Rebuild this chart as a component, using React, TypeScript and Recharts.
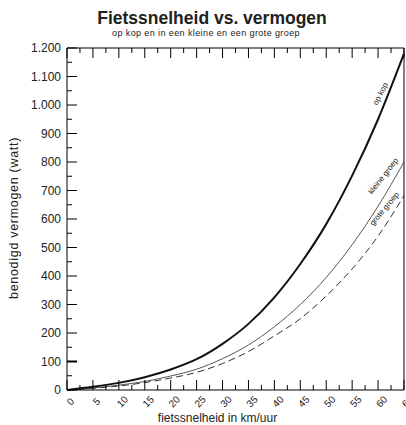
import { LineChart, Line, XAxis, YAxis, ReferenceDot } from "recharts";

const speeds = [0, 5, 10, 15, 20, 25, 30, 35, 40, 45, 50, 55, 60, 65];
const opKop = [0, 11, 25, 45, 72, 108, 162, 232, 325, 442, 582, 752, 950, 1180];
const kleineGroep = [0, 7, 17, 30, 49, 73, 110, 158, 222, 300, 395, 510, 645, 800];
const groteGroep = [0, 6, 14, 26, 42, 62, 93, 135, 190, 250, 330, 425, 540, 682];

const xTicks = Array.from({ length: 27 }, (_, i) => i * 2.5);
const yTicks = Array.from({ length: 25 }, (_, i) => i * 50);

const data = speeds.map((v, i) => ({
  v,
  opKop: opKop[i],
  kleine: kleineGroep[i],
  grote: groteGroep[i],
}));

const FONT = "Arial, 'Liberation Sans', sans-serif";
const fmt = (n: number) => n.toLocaleString("nl-NL");

const tickW = (v: number) => (v === 100 ? 2 : 1);

function LeftTick({ x, y, payload }: any) {
  const v = payload.value;
  const major = v % 100 === 0;
  return (
    <g>
      <line x1={x} x2={x + (major ? 10 : 5)} y1={y} y2={y} stroke="#000" strokeWidth={tickW(v)} />
      {major && (
        <text x={x - 6} y={y + 4} textAnchor="end" fontSize={12} fill="#222" fontFamily={FONT}>
          {fmt(v)}
        </text>
      )}
    </g>
  );
}

function RightTick({ x, y, payload }: any) {
  const v = payload.value;
  const major = v % 100 === 0;
  return <line x1={x - (major ? 10 : 5)} x2={x} y1={y} y2={y} stroke="#000" strokeWidth={tickW(v)} />;
}

function BottomTick({ x, y, payload }: any) {
  const v = payload.value;
  const major = v % 5 === 0;
  const tx = x + 6;
  const ty = y + 14;
  return (
    <g>
      <line x1={x} x2={x} y1={y} y2={y - (major ? 10 : 5)} stroke="#000" />
      {major && (
        <text
          x={tx}
          y={ty}
          transform={`rotate(-45, ${tx}, ${ty})`}
          textAnchor="middle"
          fontSize={10}
          fill="#222"
          fontFamily={FONT}
        >
          {v}
        </text>
      )}
    </g>
  );
}

function TopTick({ x, y, payload }: any) {
  const major = payload.value % 5 === 0;
  return <line x1={x} x2={x} y1={y} y2={y + (major ? 10 : 5)} stroke="#000" />;
}

const curveLabel = (text: string, angle: number) => (p: any) => (
  <text
    x={p.cx}
    y={p.cy}
    transform={`rotate(${angle}, ${p.cx}, ${p.cy})`}
    textAnchor="middle"
    fontSize={8}
    fill="#222"
    fontFamily={FONT}
  >
    {text}
  </text>
);

export default function App() {
  return (
    <div
      style={{
        position: "absolute",
        left: 0,
        top: 0,
        width: 406,
        height: 425,
        overflow: "hidden",
        background: "#fff",
        fontFamily: FONT,
      }}
    >
      <div
        style={{
          position: "absolute",
          left: 0,
          width: 424,
          top: 8,
          textAlign: "center",
          fontSize: 17.5,
          fontWeight: "bold",
          color: "#222",
        }}
      >
        Fietssnelheid vs. vermogen
      </div>
      <div
        style={{
          position: "absolute",
          left: 0,
          width: 412,
          top: 28,
          textAlign: "center",
          fontSize: 9,
          letterSpacing: 0.4,
          color: "#222",
        }}
      >
        op kop en in een kleine en een grote groep
      </div>
      <LineChart
        width={440}
        height={425}
        data={data}
        margin={{ top: 38, right: 0, bottom: 0, left: 0 }}
      >
        <XAxis
          dataKey="v"
          type="number"
          domain={[0, 65]}
          ticks={xTicks}
          interval={0}
          height={35}
          tickSize={0}
          tickMargin={0}
          tickLine={false}
          axisLine={{ stroke: "#000" }}
          tick={<BottomTick />}
          label={{
            value: "fietssnelheid in km/uur",
            position: "insideBottom",
            offset: 3,
            dx: -18,
            fontSize: 12,
            fill: "#222",
            fontFamily: FONT,
          }}
        />
        <XAxis
          xAxisId="t"
          orientation="top"
          dataKey="v"
          type="number"
          domain={[0, 65]}
          ticks={xTicks}
          interval={0}
          height={10}
          tickSize={0}
          tickMargin={0}
          tickLine={false}
          axisLine={{ stroke: "#000" }}
          tick={<TopTick />}
        />
        <YAxis
          type="number"
          domain={[0, 1200]}
          ticks={yTicks}
          interval={0}
          width={67}
          tickSize={0}
          tickMargin={0}
          tickLine={false}
          axisLine={{ stroke: "#000" }}
          tick={<LeftTick />}
          label={{
            value: "benodigd vermogen (watt)",
            angle: -90,
            position: "insideLeft",
            offset: 14,
            dy: 80,
            fontSize: 12.5,
            letterSpacing: 0.7,
            fill: "#222",
            fontFamily: FONT,
          }}
        />
        <YAxis
          yAxisId="r"
          orientation="right"
          type="number"
          domain={[0, 1200]}
          ticks={yTicks}
          interval={0}
          width={36}
          tickSize={0}
          tickMargin={0}
          tickLine={false}
          axisLine={{ stroke: "#000" }}
          tick={<RightTick />}
        />
        <Line
          dataKey="grote"
          type="monotone"
          stroke="#333"
          strokeWidth={1}
          strokeDasharray="7 4"
          dot={false}
          isAnimationActive={false}
        />
        <Line
          dataKey="kleine"
          type="monotone"
          stroke="#555"
          strokeWidth={1}
          dot={false}
          isAnimationActive={false}
        />
        <Line
          dataKey="opKop"
          type="monotone"
          stroke="#111"
          strokeWidth={2}
          dot={false}
          isAnimationActive={false}
        />
        <ReferenceDot x={60.9} y={1035} r={0} shape={curveLabel("op kop", -63)} />
        <ReferenceDot x={61.4} y={745} r={0} shape={curveLabel("kleine groep", -52)} />
        <ReferenceDot x={61.6} y={630} r={0} shape={curveLabel("grote groep", -50)} />
      </LineChart>
    </div>
  );
}
